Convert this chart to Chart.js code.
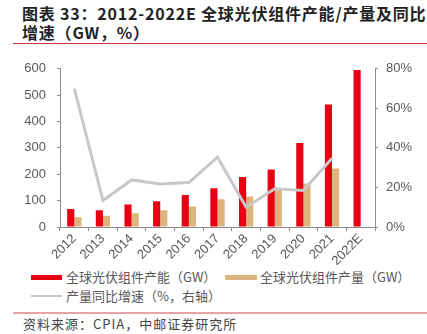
<!DOCTYPE html>
<html>
<head>
<meta charset="utf-8">
<script src="https://cdn.jsdelivr.net/npm/chart.js@4"></script>
<style>
  body { margin: 0; width: 427px; height: 334px; background: #fff; position: relative; overflow: hidden;
         font-family: 'Noto Sans CJK SC', sans-serif; }
  #title { position: absolute; left: 22px; top: 4px; font-size: 16px; font-weight: bold; color: #222;
           line-height: 19px; letter-spacing: 0.8px; white-space: nowrap; }
  #rule1 { position: absolute; left: 13px; right: 0; top: 43px; height: 1px; background: #c8323c; }
  #wrap { position: absolute; left: 0; top: 50px; width: 427px; height: 215px; }
  .leg { position: absolute; font-size: 13px; color: #595959; line-height: 16px; white-space: nowrap; }
  .sw { position: absolute; }
  #rule2 { position: absolute; left: 13px; right: 0; top: 312px; height: 2px; background: #e6a2a4; }
  #src { position: absolute; left: 23px; top: 314px; font-size: 13px; color: #444; letter-spacing: 1px; }
</style>
</head>
<body>
<div id="title">图表 33：2012-2022E 全球光伏组件产能/产量及同比<br>增速（GW，%）</div>
<div id="rule1"></div>
<div id="wrap"><canvas id="c"></canvas></div>

<div class="sw" style="left:31px; top:275px; width:31px; height:5px; background:#e60012;"></div>
<div class="leg" style="left:66px; top:269px;">全球光伏组件产能（GW）</div>
<div class="sw" style="left:225px; top:275px; width:32px; height:5px; background:#dcb47c;"></div>
<div class="leg" style="left:260px; top:269px;">全球光伏组件产量（GW）</div>
<div class="sw" style="left:31px; top:295px; width:31px; height:2px; background:#c8c8c8;"></div>
<div class="leg" style="left:66px; top:288px;">产量同比增速（%，右轴）</div>

<div id="rule2"></div>
<div id="src">资料来源：CPIA，中邮证券研究所</div>

<script>
const years = ['2012', '2013', '2014', '2015', '2016', '2017', '2018', '2019', '2020', '2021', '2022E'];
const capacity = [68, 64, 85, 98, 121, 147, 190, 218, 319, 465, 595];
const output = [37, 43, 52, 64, 78, 105, 116, 145, 165, 222, null];
const growth = [70, 13.4, 23.8, 21.7, 22.5, 35.3, 10, 19.3, 18.5, 34.8, null];
const leftTicks = [0, 100, 200, 300, 400, 500, 600];
const rightTicks = [0, 20, 40, 60, 80];

const axisColor = '#8c8c8c';
const tickFont = { family: 'Liberation Sans, Arial', size: 13 };

const canvas = document.getElementById('c');
canvas.width = 427;
canvas.height = 215;

new Chart(canvas.getContext('2d'), {
    type: 'bar',
    data: {
        labels: years,
        datasets: [{
            type: 'line',
            label: '产量同比增速（%，右轴）',
            data: growth,
            yAxisID: 'y1',
            borderColor: '#c8c8c8',
            borderWidth: 3,
            pointRadius: 0,
            tension: 0,
            fill: false,
            order: 0
        }, {
            label: '全球光伏组件产能（GW）',
            data: capacity,
            backgroundColor: '#e60012',
            yAxisID: 'y',
            categoryPercentage: 0.5,
            barPercentage: 1,
            order: 1
        }, {
            label: '全球光伏组件产量（GW）',
            data: output,
            backgroundColor: '#dcb47c',
            yAxisID: 'y',
            categoryPercentage: 0.5,
            barPercentage: 1,
            order: 1
        }]
    },
    options: {
        responsive: false,
        animation: false,
        layout: { padding: { top: 10, left: 0, right: 0, bottom: 0 } },
        plugins: { legend: { display: false }, tooltip: { enabled: false } },
        scales: {
            x: {
                grid: { display: true, drawOnChartArea: false, offset: true, color: axisColor, tickLength: 4 },
                border: { color: axisColor },
                ticks: { color: '#595959', font: tickFont, maxRotation: 45, minRotation: 45, padding: 0 },
                afterFit: function (s) { s.height = 38; }
            },
            y: {
                position: 'left',
                min: 0, max: 600,
                afterBuildTicks: function (s) { s.ticks = leftTicks.map(v => ({ value: v })); },
                grid: { drawOnChartArea: false, color: axisColor, tickLength: 3 },
                border: { color: axisColor },
                ticks: { color: '#595959', font: tickFont, padding: 11 },
                afterFit: function (s) { s.width = 60; }
            },
            y1: {
                position: 'right',
                min: 0, max: 80,
                afterBuildTicks: function (s) { s.ticks = rightTicks.map(v => ({ value: v })); },
                grid: { drawOnChartArea: false, color: axisColor, tickLength: 3 },
                border: { color: axisColor },
                ticks: { color: '#595959', font: tickFont, padding: 8, callback: v => v + '%' },
                afterFit: function (s) { s.width = 52; }
            }
        }
    }
});
</script>
</body>
</html>
